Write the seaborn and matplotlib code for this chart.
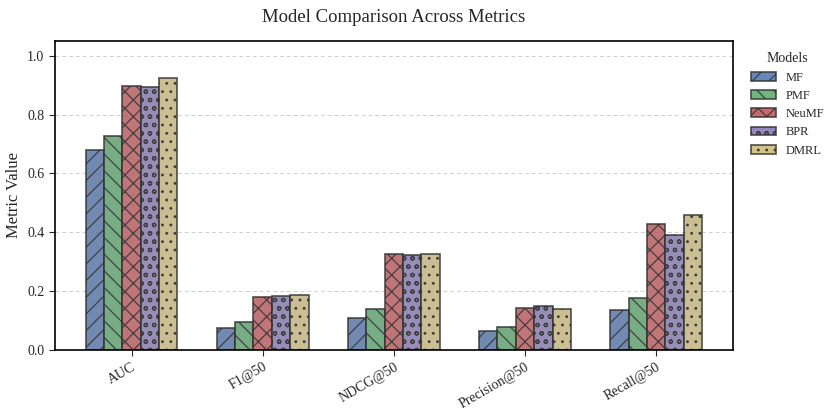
import numpy as np
import pandas as pd
import matplotlib
matplotlib.use("Agg")
import matplotlib.pyplot as plt
import seaborn as sns
from matplotlib.patches import Patch

metrics = ["AUC", "F1@50", "NDCG@50", "Precision@50", "Recall@50"]
models = ["MF", "PMF", "NeuMF", "BPR", "DMRL"]
mf = [0.680, 0.074, 0.108, 0.064, 0.134]
pmf = [0.727, 0.094, 0.138, 0.077, 0.175]
neumf = [0.896, 0.179, 0.325, 0.141, 0.427]
bpr = [0.895, 0.183, 0.321, 0.148, 0.390]
dmrl = [0.924, 0.186, 0.325, 0.138, 0.458]
hatches = ["//", "\\\\", "xx", "oo", ".."]

values = {"MF": mf, "PMF": pmf, "NeuMF": neumf, "BPR": bpr, "DMRL": dmrl}
rows = []
for m in models:
    for k, met in enumerate(metrics):
        rows.append({"Metric": met, "Model": m, "Value": values[m][k]})
df = pd.DataFrame(rows)

sns.set_style("white")
plt.rcParams["font.family"] = ["Liberation Serif", "DejaVu Serif"]
plt.rcParams["hatch.linewidth"] = 0.9

deep = sns.color_palette("deep", 10)
colors = [deep[0], deep[2], deep[3], deep[4], deep[8]]

fig = plt.figure(figsize=(8.3, 4.15), dpi=100)
ax = fig.add_axes([0.066, 0.157, 0.817, 0.744])

sns.barplot(data=df, x="Metric", y="Value", hue="Model", order=metrics,
            hue_order=models, palette=colors, width=0.7, alpha=0.85,
            edgecolor="#333333", linewidth=1.2, legend=False, ax=ax,
            errorbar=None)

# apply hatches: patches are ordered by hue then category
for i, bar in enumerate(ax.patches[:len(models) * len(metrics)]):
    bar.set_hatch(hatches[i // len(metrics)])

ax.set_xlim(-0.585, 4.585)
ax.set_ylim(0, 1.05)
ax.yaxis.grid(True, linestyle=(0, (4, 3)), color="#d0d0d0", linewidth=0.7)
ax.set_axisbelow(True)
for s in ax.spines.values():
    s.set_color("black")
    s.set_linewidth(1.2)

ax.tick_params(axis="both", bottom=True, left=True, length=4, labelsize=10)
plt.setp(ax.get_xticklabels(), rotation=30, ha="right", rotation_mode="anchor")
ax.set_xlabel("")
ax.set_ylabel("Metric Value", fontsize=12)
ax.set_title("Model Comparison Across Metrics", fontsize=13.5, pad=14)

handles = [Patch(facecolor=colors[i], alpha=0.85, edgecolor="#333333",
                 hatch=hatches[i], linewidth=1.2, label=models[i])
           for i in range(len(models))]
ax.legend(handles=handles, title="Models", loc="upper left",
          bbox_to_anchor=(1.01, 1.0), frameon=False, fontsize=9,
          title_fontsize=10)

fig.savefig("out.png", dpi=100)
